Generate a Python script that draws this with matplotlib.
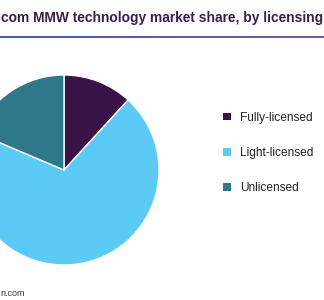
import numpy as np
import matplotlib
matplotlib.use("Agg")
import matplotlib.pyplot as plt
from matplotlib.colors import LinearSegmentedColormap

plt.rcParams['font.family'] = ['Liberation Sans', 'DejaVu Sans']

# data
labels = ['Fully-licensed', 'Light-licensed', 'Unlicensed']
shares = [11.8, 69.6, 18.6]
colors = ['#3a1349', '#5bcbf6', '#2f7889']
title = 'com MMW technology market share, by licensing'
source = 'n.com'

W, H = 324, 300
fig = plt.figure(figsize=(W / 100, H / 100), dpi=100)

# title and gradient rule underneath
fig.text(1 / W, 1 - 18 / H, title, fontsize=9.9, fontweight='bold',
         color='#3b1c4e', va='center', ha='left')
rule = fig.add_axes([0, 1 - 38 / H, 1, 2 / H])
cmap = LinearSegmentedColormap.from_list('rule', ['#4a5ba8', '#7b5aa2'])
rule.imshow(np.linspace(0, 1, 256)[None, :], cmap=cmap, aspect='auto')
rule.axis('off')

# pie
cx, cy, r = 64, 170, 95
ax = fig.add_axes([(cx - r) / W, (H - cy - r) / H, 2 * r / W, 2 * r / H])
wedges, _ = ax.pie(shares, colors=colors, startangle=90, counterclock=False,
                   wedgeprops=dict(edgecolor='white', linewidth=1))
ax.set_xlim(-1, 1)
ax.set_ylim(-1, 1)
ax.axis('off')

leg = fig.legend(wedges, labels, loc='center left',
                 bbox_to_anchor=(217 / W, 1 - 153 / H), frameon=False,
                 fontsize=8.6, handlelength=0.65, handleheight=0.65,
                 handletextpad=0.8, labelspacing=1.95, borderpad=0)
for h in leg.legend_handles:
    h.set_edgecolor('none')
for t in leg.get_texts():
    t.set_color('#222222')

fig.text(0, 1 - 294 / H, source, fontsize=6.5, color='#333333', va='center')

fig.savefig('out.png', dpi=100)
